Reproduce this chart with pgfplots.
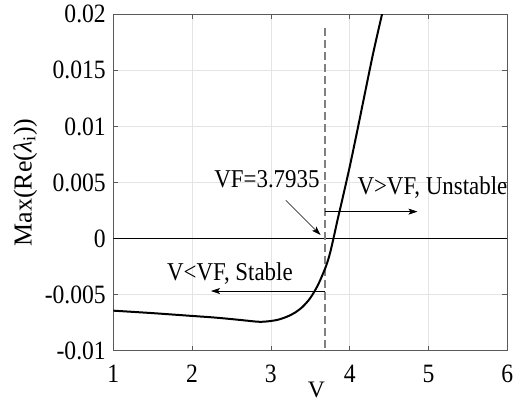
\documentclass[border=0pt]{standalone}
\usepackage{pgfplots}
\pgfplotsset{compat=1.18}
\usepackage{fontspec}
\setmainfont{Liberation Serif}
\usetikzlibrary{arrows.meta}
\definecolor{gridc}{RGB}{228,228,228}
\definecolor{axc}{RGB}{90,90,90}
\begin{document}
\begin{tikzpicture}
\begin{axis}[
  scale only axis,
  width=394bp, height=336.4bp,
  xmin=1, xmax=6, ymin=-0.01, ymax=0.02,
  scaled ticks=false,
  xtick={1,2,3,4,5,6},
  xticklabels={1,2,3,4,5,6},
  ytick={-0.01,-0.005,0,0.005,0.01,0.015,0.02},
  yticklabels={-0.01,-0.005,0,0.005,0.01,0.015,0.02},
  tick align=inside,
  major tick length=5bp,
  tick style={axc, line width=0.5pt},
  axis line style={axc, line width=0.6pt},
  grid=major,
  grid style={gridc, line width=0.5pt},
  xticklabel style={font=\rmfamily\fontsize{23.7}{25}\selectfont, yscale=1.12, text=black, anchor=center, yshift=-21bp},
  yticklabel style={font=\rmfamily\fontsize{23.7}{25}\selectfont, yscale=1.12, text=black, anchor=east, xshift=-4bp},
  xlabel={V},
  ylabel={Max(Re(\textit{λ}\textsubscript{i}))},
  xlabel style={font=\rmfamily\fontsize{23.7}{25}\selectfont, inner sep=0pt, at={([xshift=6bp,yshift=-39bp]axis description cs:0.5,0)}, anchor=center},
  ylabel style={font=\rmfamily\fontsize{26}{28}\selectfont, at={([xshift=-88bp]axis description cs:0,0.5)}, anchor=center},
]
\addplot[black, line width=1.8pt] coordinates {(1,0) (6,0)};
\addplot[gray, line width=1.2pt, dash pattern=on 8bp off 4bp] coordinates {(3.687,0.01875) (3.687,-0.01)};
\addplot[black, line width=2pt, smooth] coordinates {
(1.0,-0.00643)
(1.5,-0.00665)
(2.0,-0.00690)
(2.3,-0.00705)
(2.6,-0.00725)
(2.85,-0.00742)
(3.0,-0.00735)
(3.1,-0.00722)
(3.2,-0.00698)
(3.3,-0.00663)
(3.4,-0.00610)
(3.5,-0.00530)
(3.6,-0.00410)
(3.7,-0.00245)
(3.75,-0.00130)
(3.7935,0)
(3.85,0.00180)
(3.9,0.00330)
(4.0,0.00640)
(4.1,0.00975)
(4.2,0.01320)
(4.3,0.01660)
(4.41,0.02000)
(4.45,0.02120)
};
\draw[black, line width=0.6pt, -{Stealth[length=9bp,width=6bp,inset=2bp]}] (axis cs:3.69,0.0024) -- (axis cs:4.86,0.0024);
\draw[black, line width=0.6pt, -{Stealth[length=9bp,width=6bp,inset=2bp]}] (axis cs:3.69,-0.00468) -- (axis cs:2.24,-0.00468);
\draw[black, line width=0.6pt, -{Stealth[length=9bp,width=6bp,inset=2bp]}] (axis cs:3.19,0.00341) -- (axis cs:3.63,0.00032);
\node[font=\rmfamily\fontsize{23}{25}\selectfont, yscale=1.12, anchor=base, inner sep=0pt] at (axis cs:2.95,0.00451) {VF=3.7935};
\node[font=\rmfamily\fontsize{23}{25}\selectfont, yscale=1.12, anchor=base, inner sep=0pt] at (axis cs:5.05,0.00389) {V>VF, Unstable};
\node[font=\rmfamily\fontsize{23}{25}\selectfont, yscale=1.12, anchor=base, inner sep=0pt] at (axis cs:2.48,-0.0037) {V<VF, Stable};
\end{axis}
\pgfresetboundingbox
\useasboundingbox ([shift={(-113.3bp,-51.3bp)}]current axis.south west) rectangle ([shift={(6.7bp,14.3bp)}]current axis.north east);
\end{tikzpicture}
\end{document}
